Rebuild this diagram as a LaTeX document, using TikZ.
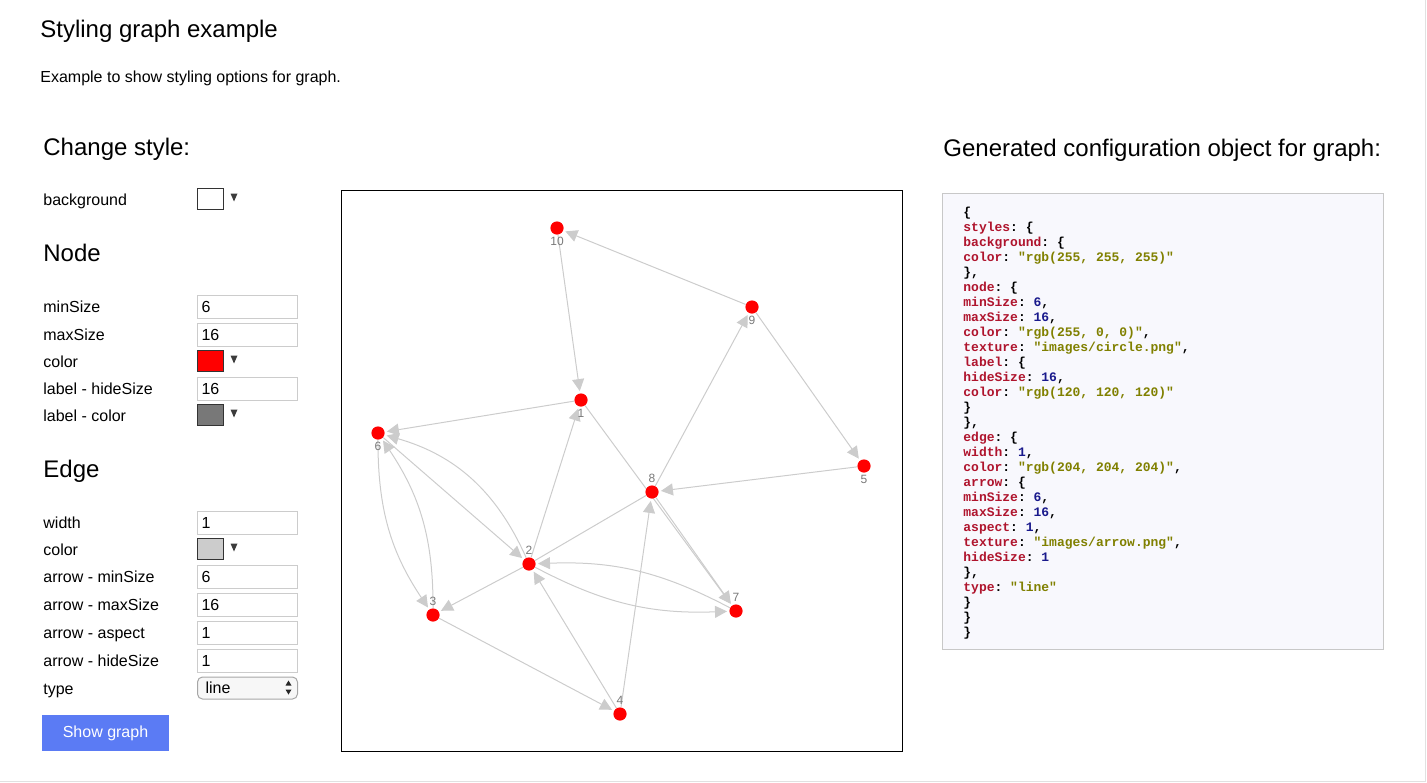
\documentclass[tikz,border=0pt]{standalone}
\usepackage{fontspec}
\setmainfont{Liberation Sans}
\setmonofont{Liberation Mono}
\usetikzlibrary{arrows.meta, backgrounds}

\definecolor{edgegray}{RGB}{204,204,204}
\definecolor{labelgray}{RGB}{120,120,120}
\definecolor{nodered}{RGB}{255,0,0}
\definecolor{inputgray}{RGB}{204,204,204}
\definecolor{tridark}{RGB}{60,60,60}
\definecolor{btnblue}{RGB}{91,123,244}
\definecolor{codebg}{RGB}{248,248,253}
\definecolor{codeframe}{RGB}{200,200,200}
\definecolor{keyred}{RGB}{175,20,45}
\definecolor{strolive}{RGB}{128,128,0}
\definecolor{numblue}{RGB}{25,25,140}
\definecolor{pageline}{RGB}{225,225,225}

\newcommand{\ck}[1]{\textcolor{keyred}{#1}}
\newcommand{\cs}[1]{\textcolor{strolive}{#1}}
\newcommand{\cn}[1]{\textcolor{numblue}{#1}}

\tikzset{
    graphnode/.style={circle, fill=nodered, minimum size=6.6pt, inner sep=0pt},
    lbl/.style={font=\fontsize{6}{7}\selectfont, text=labelgray, inner sep=0.3pt},
    grapharrow/.style={draw=edgegray, line width=0.5pt, shorten >=1pt, -{Triangle[length=6pt,width=6pt]}},
    graphline/.style={draw=edgegray, line width=0.5pt},
    heading/.style={anchor=base west, inner sep=0pt, font=\fontsize{12}{14}\selectfont},
    rowlabel/.style={anchor=base west, inner sep=0pt, font=\fontsize{8}{9.6}\selectfont},
    inputbox/.style={draw=inputgray, line width=0.5pt, anchor=west, minimum height=11.5pt, text width=46pt, inner xsep=2pt, inner ysep=0pt, align=left, font=\fontsize{8}{9.6}\selectfont},
    swatch/.style={draw=black!80, line width=0.5pt, anchor=west, minimum width=13pt, minimum height=10.5pt, inner sep=0pt},
    codeline/.style={anchor=base west, inner sep=0pt, font=\fontsize{6.5}{7.5}\selectfont\ttfamily\bfseries}
}

\begin{document}
\begin{tikzpicture}[x=0.5pt, y=-0.5pt, label distance=0.8pt]
        \useasboundingbox (0,0) rectangle (1427,782);
        \draw[pageline, line width=0.5pt] (1425,0) -- (1425,781) -- (0,781);

        % page texts
        \node[heading] (title) at (40,37) {Styling graph example};
        \node[anchor=base west, inner sep=0pt, font=\fontsize{8}{9.6}\selectfont] (intro) at (40,82) {Example to show styling options for graph.};
        \node[heading] (change) at (43,155) {Change style:};
        \node[heading] (nodehead) at (43,261) {Node};
        \node[heading] (edgehead) at (43,477) {Edge};
        \node[heading] (genhead) at (943,156) {Generated configuration object for graph:};

        % form rows
        \foreach \txt/\y in {background/199, minSize/306, maxSize/334, color/361, {label - hideSize}/388, {label - color}/415, width/522, color/549, {arrow - minSize}/576, {arrow - maxSize}/604, {arrow - aspect}/632, {arrow - hideSize}/660, type/688}
            \node[rowlabel] (row\y) at (43,\y+6) {\txt};

        \foreach \val/\y in {6/306, 16/334, 16/388, 1/522, 6/576, 16/604, 1/632, 1/660}
            \node[inputbox] (in\y) at (197,\y+0.5) {\val};

        \foreach \col/\y in {white/199, nodered/361, labelgray/415, edgegray/549}{
            \node[swatch, fill=\col] (sw\y) at (197,\y-0.5) {};
            \fill[tridark] (230.5,\y-5.5) -- (237.5,\y-5.5) -- (234,\y+2.5) -- cycle;
        }

        \node[draw=black!35, fill=black!3, rounded corners=2.5pt, line width=0.5pt, anchor=west, minimum height=11pt, text width=42pt, inner xsep=4pt, inner ysep=0pt, align=left, font=\fontsize{8}{9.6}\selectfont] (typesel) at (197,688) {line};
        \fill[black!85] (285.5,685.5) -- (291.5,685.5) -- (288.5,680.5) -- cycle;
        \fill[black!85] (285.5,689.5) -- (291.5,689.5) -- (288.5,694.5) -- cycle;

        \node[fill=btnblue, text=white, minimum width=63.5pt, minimum height=18pt, inner sep=0pt, font=\fontsize{8}{9.6}\selectfont] (showbtn) at (105.5,733) {Show graph};

        % graph canvas
        \draw[line width=0.5pt] (341,190) rectangle (902,751);

        % nodes
        \node[graphnode, label={[lbl]below:10}] (n10) at (557,228) {};
        \node[graphnode, label={[lbl]below:9}] (n9) at (752,307) {};
        \node[graphnode, label={[lbl]below:1}] (n1) at (581,400) {};
        \node[graphnode, label={[lbl]below:6}] (n6) at (378,433) {};
        \node[graphnode, label={[lbl]below:5}] (n5) at (864,466) {};
        \node[graphnode, label={[lbl]above:8}] (n8) at (652,492) {};
        \node[graphnode, label={[lbl]above:2}] (n2) at (529,564) {};
        \node[graphnode, label={[lbl]above:3}] (n3) at (433,615) {};
        \node[graphnode, label={[lbl]above:7}] (n7) at (736,611) {};
        \node[graphnode, label={[lbl]above:4}] (n4) at (620,714) {};

        % edges
        \begin{scope}[on background layer]
        \draw[grapharrow] (n9) -- (n10);
        \draw[grapharrow] (n10) -- (n1);
        \draw[grapharrow] (n9) -- (n5);
        \draw[grapharrow] (n1) -- (n6);
        \draw[grapharrow] (n2) -- (n1);
        \draw[grapharrow] (n8) -- (n9);
        \draw[grapharrow] (n5) -- (n8);
        \draw[grapharrow] (n1) -- (n7);
        \draw[grapharrow] (n8) -- (n7);
        \draw[grapharrow] (n6) -- (n2);
        \draw[grapharrow] (n2) to[bend right=25] (n6);
        \draw[grapharrow] (n6) to[bend right=17] (n3);
        \draw[grapharrow] (n3) to[bend right=17] (n6);
        \draw[grapharrow] (n2) -- (n3);
        \draw[grapharrow] (n3) -- (n4);
        \draw[grapharrow] (n4) -- (n2);
        \draw[grapharrow] (n4) -- (n8);
        \draw[grapharrow] (n7) to[bend right=15] (n2);
        \draw[grapharrow] (n2) to[bend right=15] (n7);
        \draw[graphline] (n2) -- (n8);
        \end{scope}

        % configuration object
        \draw[draw=codeframe, fill=codebg, line width=0.5pt] (942,193) rectangle (1383,649);
        \foreach \codetext [count=\k] in {
            {\{},
            {\ck{styles}: \{},
            {\ck{background}: \{},
            {\ck{color}: \cs{"rgb(255, 255, 255)"}},
            {\},},
            {\ck{node}: \{},
            {\ck{minSize}: \cn{6},},
            {\ck{maxSize}: \cn{16},},
            {\ck{color}: \cs{"rgb(255, 0, 0)"},},
            {\ck{texture}: \cs{"images/circle.png"},},
            {\ck{label}: \{},
            {\ck{hideSize}: \cn{16},},
            {\ck{color}: \cs{"rgb(120, 120, 120)"}},
            {\}},
            {\},},
            {\ck{edge}: \{},
            {\ck{width}: \cn{1},},
            {\ck{color}: \cs{"rgb(204, 204, 204)"},},
            {\ck{arrow}: \{},
            {\ck{minSize}: \cn{6},},
            {\ck{maxSize}: \cn{16},},
            {\ck{aspect}: \cn{1},},
            {\ck{texture}: \cs{"images/arrow.png"},},
            {\ck{hideSize}: \cn{1}},
            {\},},
            {\ck{type}: \cs{"line"}},
            {\}},
            {\}},
            {\}}}
            \node[codeline] (code\k) at (963,201+15*\k) {\codetext};

\end{tikzpicture}
\end{document}
